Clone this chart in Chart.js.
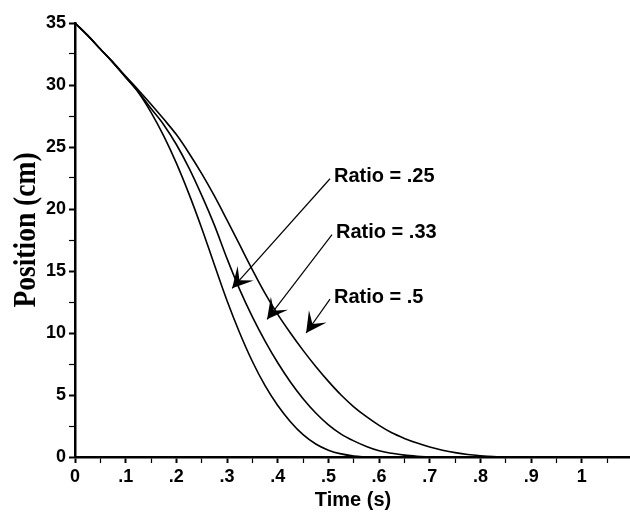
<!DOCTYPE html>
<html>
<head>
<meta charset="utf-8">
<title>Position vs Time</title>
<script src="https://cdn.jsdelivr.net/npm/chart.js@4.4.0/dist/chart.umd.min.js"></script>
<style>
    html, body { margin: 0; padding: 0; background: #fff; }
    #grafico { display: block; }
</style>
</head>
<body>
<canvas id="grafico" width="630" height="514"></canvas>
<script>
// Dados (tempo em s, posição em cm)
const tempos = [0, 0.025, 0.05, 0.075, 0.1, 0.125, 0.15, 0.175, 0.2, 0.225, 0.25, 0.275, 0.3, 0.325, 0.35, 0.375,
                0.4, 0.425, 0.45, 0.475, 0.5, 0.525, 0.55, 0.575, 0.6, 0.625, 0.65, 0.675, 0.7, 0.725, 0.75, 0.775,
                0.8, 0.825, 0.85];
const posRatio25 = [35, 34.0, 32.9, 31.8, 30.6, 29.4, 27.8, 25.9, 23.7, 21.2, 18.45, 15.5, 12.6, 10.0, 7.7, 5.75,
                    4.15, 2.85, 1.8, 1.05, 0.55, 0.25, 0.08, 0, null, null, null, null, null, null, null, null,
                    null, null, null];
const posRatio33 = [35, 34.0, 32.9, 31.8, 30.65, 29.45, 28.1, 26.8, 25.2, 23.3, 21.1, 18.7, 16.0, 13.5, 11.3, 9.35,
                    7.6, 6.05, 4.7, 3.55, 2.6, 1.85, 1.3, 0.85, 0.5, 0.3, 0.15, 0.06, 0, null, null, null,
                    null, null, null];
const posRatio5  = [35, 34.0, 32.9, 31.85, 30.7, 29.6, 28.45, 27.25, 26.0, 24.5, 22.85, 21.05, 19.1, 17.1, 15.1, 13.2,
                    11.5, 10.0, 8.6, 7.3, 6.1, 5.0, 4.05, 3.25, 2.55, 1.95, 1.5, 1.12, 0.8, 0.55, 0.35, 0.2,
                    0.1, 0.03, 0];

// Marcas dos eixos (menores sem rótulo)
const ticksX = [0, 0.05, 0.1, 0.15, 0.2, 0.25, 0.3, 0.35, 0.4, 0.45, 0.5, 0.55, 0.6, 0.65, 0.7, 0.75, 0.8, 0.85, 0.9, 0.95, 1, 1.05];
const rotulosX = ['0', '', '.1', '', '.2', '', '.3', '', '.4', '', '.5', '', '.6', '', '.7', '', '.8', '', '.9', '', '1', ''];
const ticksY = [0, 2.5, 5, 7.5, 10, 12.5, 15, 17.5, 20, 22.5, 25, 27.5, 30, 32.5, 35];
const rotulosY = ['0', '', '5', '', '10', '', '15', '', '20', '', '25', '', '30', '', '35'];

const tituloX = 'Time (s)';
const tituloY = 'Position (cm)';

// Setas com legenda
const anotacoes = [
    { texto: 'Ratio = .25', textoX: 0.511, textoY: 22.6, pontaX: 0.310, pontaY: 13.6 },
    { texto: 'Ratio = .33', textoX: 0.515, textoY: 18.1, pontaX: 0.379, pontaY: 11.1 },
    { texto: 'Ratio = .5',  textoX: 0.511, textoY: 12.9, pontaX: 0.456, pontaY: 10.0 }
];

const fonteSans = '"Liberation Sans", Arial, sans-serif';

function montarSerie(valores) {
    return tempos.map((t, i) => ({ x: t, y: valores[i] })).filter(p => p.y !== null);
}

const anotacoesPlugin = {
    id: 'anotacoes',
    afterDraw(chart) {
        const { ctx, scales: { x, y } } = chart;
        ctx.save();
        ctx.fillStyle = '#000';
        ctx.strokeStyle = '#000';

        // título do eixo X
        ctx.font = 'bold 20px ' + fonteSans;
        ctx.textAlign = 'center';
        ctx.textBaseline = 'alphabetic';
        ctx.fillText(tituloX, 353, 506);

        // título do eixo Y (serifado, um pouco comprimido)
        ctx.save();
        ctx.translate(35, 230);
        ctx.rotate(-Math.PI / 2);
        ctx.scale(0.86, 1);
        ctx.font = 'bold 32px "Liberation Serif", "Times New Roman", serif';
        ctx.fillText(tituloY, 0, 0);
        ctx.restore();

        // setas + textos
        anotacoes.forEach(a => {
            const tx = x.getPixelForValue(a.textoX);
            const ty = y.getPixelForValue(a.textoY);
            const px = x.getPixelForValue(a.pontaX);
            const py = y.getPixelForValue(a.pontaY);
            const lx = tx - 4, ly = ty + 2;

            ctx.beginPath();
            ctx.lineWidth = 1.2;
            ctx.moveTo(lx, ly);
            ctx.lineTo(px, py);
            ctx.stroke();

            const ang = Math.atan2(ly - py, lx - px);
            const abertura = 28 * Math.PI / 180;
            const comp = 23, recuo = 11;
            ctx.beginPath();
            ctx.moveTo(px, py);
            ctx.lineTo(px + comp * Math.cos(ang - abertura), py + comp * Math.sin(ang - abertura));
            ctx.lineTo(px + recuo * Math.cos(ang), py + recuo * Math.sin(ang));
            ctx.lineTo(px + comp * Math.cos(ang + abertura), py + comp * Math.sin(ang + abertura));
            ctx.closePath();
            ctx.fill();

            ctx.font = 'bold 20px ' + fonteSans;
            ctx.textAlign = 'left';
            ctx.textBaseline = 'middle';
            ctx.fillText(a.texto, tx, ty);
        });
        ctx.restore();
    }
};

function estiloLinha(valores) {
    return {
        data: montarSerie(valores),
        borderColor: '#000',
        borderWidth: 1.6,
        pointRadius: 0,
        fill: false,
        cubicInterpolationMode: 'monotone'
    };
}

const ctx = document.getElementById('grafico').getContext('2d');
new Chart(ctx, {
    type: 'line',
    data: {
        datasets: [
            Object.assign({ label: 'Ratio = .25' }, estiloLinha(posRatio25)),
            Object.assign({ label: 'Ratio = .33' }, estiloLinha(posRatio33)),
            Object.assign({ label: 'Ratio = .5' }, estiloLinha(posRatio5))
        ]
    },
    options: {
        responsive: false,
        animation: false,
        devicePixelRatio: 1,
        layout: { padding: { top: 23, right: 0, bottom: 0, left: 0 } },
        plugins: {
            legend: { display: false },
            tooltip: { enabled: false }
        },
        scales: {
            x: {
                type: 'linear',
                min: 0,
                max: 1.095,
                afterBuildTicks: eixo => { eixo.ticks = ticksX.map(v => ({ value: v })); },
                afterFit: eixo => { eixo.height = 57; },
                border: { display: true, color: '#000', width: 2.5 },
                grid: {
                    drawOnChartArea: false,
                    drawTicks: true,
                    tickLength: 6,
                    tickColor: '#000',
                    tickWidth: c => (rotulosX[c.index] ? 2 : 1.2)
                },
                ticks: {
                    autoSkip: false,
                    maxRotation: 0,
                    padding: 3,
                    color: '#000',
                    font: { family: fonteSans, size: 18, weight: 'bold' },
                    callback: (valor, i) => rotulosX[i]
                }
            },
            y: {
                type: 'linear',
                min: 0,
                max: 35,
                afterBuildTicks: eixo => { eixo.ticks = ticksY.map(v => ({ value: v })); },
                afterFit: eixo => { eixo.width = 75; },
                border: { display: true, color: '#000', width: 2.5 },
                grid: {
                    drawOnChartArea: false,
                    drawTicks: true,
                    tickLength: 6,
                    tickColor: '#000',
                    tickWidth: c => (rotulosY[c.index] ? 2 : 1.2)
                },
                ticks: {
                    autoSkip: false,
                    padding: 3,
                    color: '#000',
                    font: { family: fonteSans, size: 18, weight: 'bold' },
                    callback: (valor, i) => rotulosY[i]
                }
            }
        }
    },
    plugins: [anotacoesPlugin]
});
</script>
</body>
</html>
